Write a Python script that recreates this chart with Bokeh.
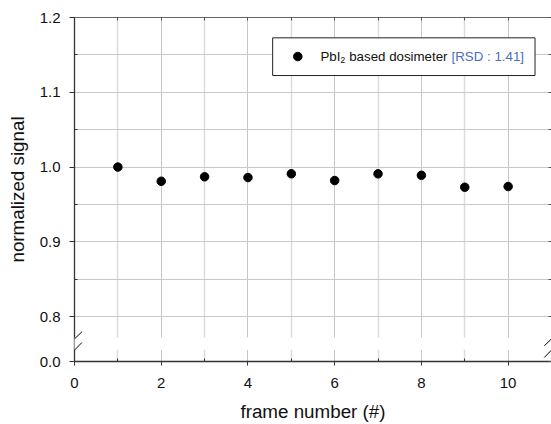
from bokeh.plotting import figure
from bokeh.models import FixedTicker, Arrow, BoxAnnotation, LinearAxis, CustomJSTickFormatter
from bokeh.embed import file_html
from bokeh.resources import INLINE
from bokeh.core.properties import value

# ---- data ----
frames = [1, 2, 3, 4, 5, 6, 7, 8, 9, 10]
signal = [1.000, 0.981, 0.987, 0.986, 0.991, 0.982, 0.991, 0.989, 0.973, 0.974]

x_ticks = [0, 2, 4, 6, 8, 10]
x_minor = [1, 3, 5, 7, 9, 11]
y_ticks = [0.74, 0.8, 0.9, 1.0, 1.1, 1.2]
y_tick_labels = ["0.0", "0.8", "0.9", "1.0", "1.1", "1.2"]
y_minor = [0.85, 0.95, 1.05, 1.15]

legend_parts = ["PbI", "2", "based dosimeter"]
legend_rsd = "[RSD : 1.41]"

FONT = "Liberation Sans"

p = figure(width=551, height=424, x_range=(0, 11), y_range=(0.74, 1.2),
           output_backend="svg", toolbar_location=None,
           min_border_left=74, min_border_right=0, min_border_top=17,
           min_border_bottom=63)
p.outline_line_color = None
p.background_fill_color = "white"

xt = FixedTicker(ticks=x_ticks, minor_ticks=x_minor)
yt = FixedTicker(ticks=y_ticks, minor_ticks=y_minor)

# grids
p.xgrid.ticker = xt
p.ygrid.ticker = yt
p.xgrid.grid_line_color = "#c6c6c6"
p.xgrid.grid_line_width = 1
p.xgrid.minor_grid_line_color = "#dcdcdc"
p.xgrid.minor_grid_line_width = 1.5
p.ygrid.grid_line_color = "#c8c8c8"
p.ygrid.minor_grid_line_color = "#c8c8c8"
p.ygrid.grid_line_width = 1
p.ygrid.minor_grid_line_width = 1

# axes
xa = p.xaxis[0]
xa.ticker = xt
xa.axis_label = "frame number (#)"
ya = p.yaxis[0]
ya.ticker = yt
ya.axis_label = "normalized signal"
ya.major_label_overrides = {t: l for t, l in zip(y_ticks, y_tick_labels)}

for ax in (xa, ya):
    ax.axis_line_color = "#333333"
    ax.axis_line_width = 1.3
    ax.major_tick_line_color = "#333333"
    ax.minor_tick_line_color = "#333333"
    ax.major_tick_in = 0
    ax.minor_tick_in = 3
    ax.minor_tick_out = 0
    ax.major_label_text_font = FONT
    ax.major_label_text_font_size = "15px"
    ax.major_label_text_color = "#111111"
    ax.axis_label_text_font = FONT
    ax.axis_label_text_font_size = "18.8px"
    ax.axis_label_text_font_style = "normal"
    ax.axis_label_text_color = "#111111"

xa.major_tick_out = 4
xa.major_label_standoff = 12
xa.axis_label_standoff = 10
ya.major_tick_out = 5
ya.major_label_standoff = 9
ya.axis_label_standoff = 9

# top and right axes with inward ticks only (no labels)
blank = CustomJSTickFormatter(code="return ''")
top = LinearAxis(ticker=xt, formatter=blank, major_label_standoff=0,
                 axis_line_color="#666666", major_tick_in=3, major_tick_out=0,
                 minor_tick_in=3, minor_tick_out=0,
                 major_tick_line_color="#555555", minor_tick_line_color="#555555")
right = LinearAxis(ticker=yt, formatter=blank, major_label_standoff=0,
                   axis_line_color=None, major_tick_in=3, major_tick_out=0,
                   minor_tick_in=3, minor_tick_out=0,
                   major_tick_line_color="#555555", minor_tick_line_color="#555555")
p.add_layout(top, "above")
p.add_layout(right, "right")

# axis break: gap band and slashes
gap_lo, gap_hi = 0.7557, 0.7721
p.quad(left=0, right=11, bottom=gap_lo, top=gap_hi, fill_color="white",
       line_color=None)
p.add_layout(BoxAnnotation(left=-0.2, right=0.2, bottom=gap_lo, top=gap_hi,
                           fill_color="white", fill_alpha=1, line_color=None,
                           level="overlay"))
for xc in (0, 11):
    for (y0, y1) in ((0.7610, 0.7798), (0.7454, 0.7654)):
        p.add_layout(Arrow(x_start=xc - 0.166, y_start=y0, x_end=xc + 0.172, y_end=y1,
                           start=None, end=None, line_color="black", line_width=1,
                           level="overlay"))

# data
p.scatter(frames, signal, size=8.5, color="black")

# legend (manual, to allow subscript and coloured RSD text)
p.quad(left=4.57, right=10.62, bottom=1.1224, top=1.1728, fill_color="white",
       line_color="#222222", line_width=1)
p.scatter([5.15], [1.1478], size=8.5, color="black")
p.text([5.673], [1.1478], text=[legend_parts[0]], text_font=value(FONT),
       text_font_size="13.3px", text_baseline="middle", text_color="#111111")
p.text([6.13], [1.1431], text=[legend_parts[1]], text_font=value(FONT),
       text_font_size="9px", text_baseline="middle", text_color="#111111")
p.text([6.335], [1.1478], text=[legend_parts[2]], text_font=value(FONT),
       text_font_size="13.3px", text_baseline="middle", text_color="#111111")
p.text([8.695], [1.1478], text=[legend_rsd], text_font=value(FONT),
       text_font_size="13.3px", text_baseline="middle", text_color="#4c6cbf")

open("out.html", "w").write(file_html(p, INLINE))
